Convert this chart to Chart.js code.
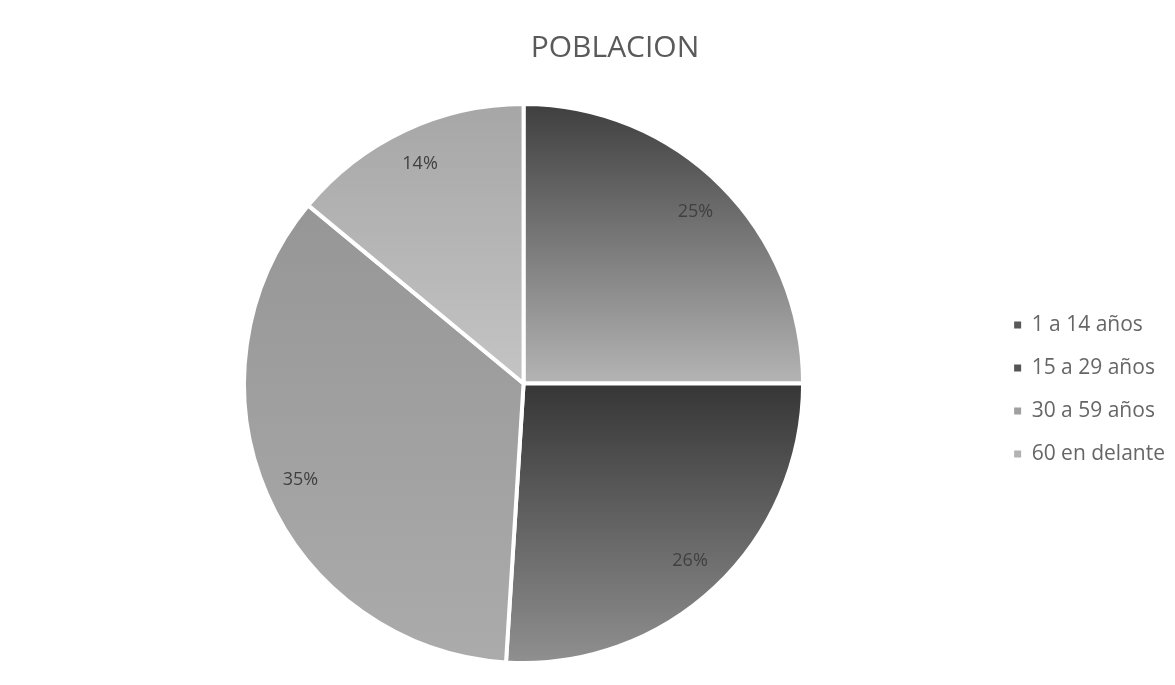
<!DOCTYPE html>
<html>
<head>
<meta charset="utf-8">
<script src="https://cdn.jsdelivr.net/npm/chart.js@4"></script>
<style>
  html, body { margin: 0; padding: 0; background: #ffffff; }
  #wrap { width: 1175px; height: 685px; }
</style>
</head>
<body>
<div id="wrap"><canvas id="poblacionChart"></canvas></div>
<script>
// Data
const categories = ['1 a 14 años', '15 a 29 años', '30 a 59 años', '60 en delante'];
const percents = [25, 26, 35, 14];

// gradient stops per slice (top colour, bottom colour)
const topColors = ['#3e3e3e', '#363636', '#969696', '#a6a6a6'];
const bottomColors = ['#b4b4b4', '#909090', '#ababab', '#c4c4c4'];
const legendColors = ['#5a5a5a', '#555555', '#a0a0a0', '#b2b2b2'];

function sliceGradient(context) {
  const chart = context.chart;
  const i = context.dataIndex;
  const area = chart.chartArea;
  if (!area) return legendColors[i];

  const cx = (area.left + area.right) / 2;
  const cy = (area.top + area.bottom) / 2;
  const r = Math.min(area.right - area.left, area.bottom - area.top) / 2;
  const total = percents.reduce((a, b) => a + b, 0);
  let start = 0;
  for (let k = 0; k < i; k++) start += percents[k] / total * Math.PI * 2;
  const end = start + percents[i] / total * Math.PI * 2;

  // vertical extent of this slice
  let minY = cy, maxY = cy;
  for (let s = 0; s <= 40; s++) {
    const a = start + (end - start) * s / 40;
    const y = cy - r * Math.cos(a);
    minY = Math.min(minY, y);
    maxY = Math.max(maxY, y);
  }
  const g = chart.ctx.createLinearGradient(0, minY, 0, maxY);
  g.addColorStop(0, topColors[i]);
  g.addColorStop(1, bottomColors[i]);
  return g;
}

// draws the percentage labels inside the slices
const percentLabels = {
  id: 'percentLabels',
  afterDatasetsDraw(chart) {
    const ctx = chart.ctx;
    const meta = chart.getDatasetMeta(0);
    ctx.save();
    ctx.font = '18px "Open Sans", sans-serif';
    ctx.fillStyle = '#404040';
    ctx.textAlign = 'center';
    ctx.textBaseline = 'middle';
    meta.data.forEach((arc, i) => {
      const p = arc.getProps(['x', 'y', 'startAngle', 'endAngle', 'outerRadius'], true);
      const mid = (p.startAngle + p.endAngle) / 2;
      const rr = p.outerRadius * 0.87;
      ctx.fillText(percents[i] + '%', p.x + Math.cos(mid) * rr, p.y + Math.sin(mid) * rr);
    });
    ctx.restore();
  }
};

new Chart(document.getElementById('poblacionChart'), {
  type: 'pie',
  data: {
    labels: categories,
    datasets: [{
      data: percents,
      backgroundColor: sliceGradient,
      borderColor: '#ffffff',
      borderWidth: 4
    }]
  },
  options: {
    responsive: true,
    maintainAspectRatio: false,
    animation: false,
    layout: {
      padding: { left: 55, right: 0, top: 12, bottom: 20 }
    },
    plugins: {
      title: {
        display: true,
        text: 'POBLACION',
        color: '#5a5a5a',
        font: { family: '"Open Sans", sans-serif', size: 30, weight: 'normal' },
        padding: { top: 18, bottom: 36 }
      },
      legend: {
        position: 'right',
        title: {
          display: true,
          text: ' ',
          font: { size: 10 },
          padding: { top: 45, bottom: 45 }
        },
        labels: {
          color: '#595959',
          font: { family: '"Open Sans", sans-serif', size: 21 },
          boxWidth: 7,
          boxHeight: 7,
          padding: 22,
          generateLabels(chart) {
            return categories.map((c, i) => ({
              text: c,
              fillStyle: legendColors[i],
              strokeStyle: legendColors[i],
              lineWidth: 0,
              index: i,
              hidden: false
            }));
          }
        }
      },
      tooltip: { enabled: false }
    }
  },
  plugins: [percentLabels]
});
</script>
</body>
</html>
